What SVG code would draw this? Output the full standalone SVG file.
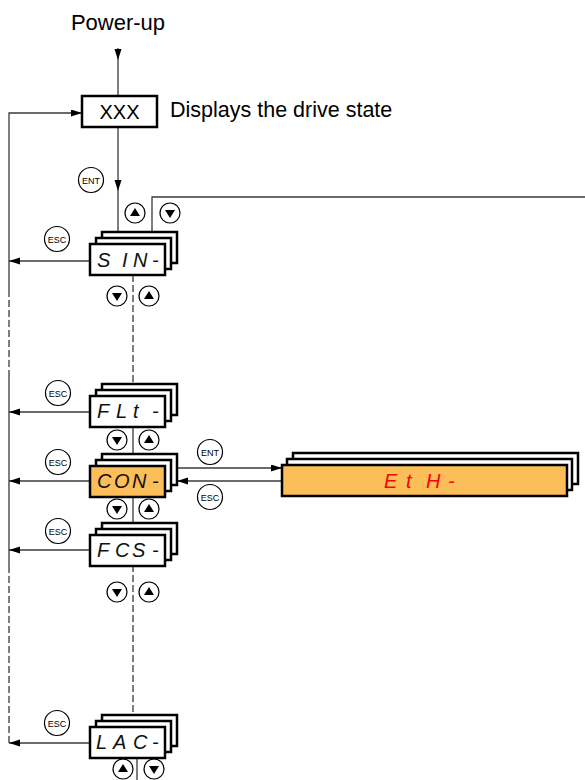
<svg xmlns="http://www.w3.org/2000/svg" width="585" height="780" viewBox="0 0 585 780">
<defs>
<style>
.ln{stroke:#3a3a3a;stroke-width:1.3;fill:none}
.dash{stroke-dasharray:7 3}
.lbl{font-family:"Liberation Sans",Arial,sans-serif;fill:#000}
.box{fill:#fff;stroke:#000;stroke-width:2.5}
.obox{fill:#FCBE58;stroke:#000;stroke-width:2.5}
.seg{font-family:"Liberation Sans",Arial,sans-serif;font-style:italic;font-size:20px;fill:#111}
.btn{fill:#fff;stroke:#000;stroke-width:1.2}
.btxt{font-family:"Liberation Sans",Arial,sans-serif;font-size:9px;fill:#000;text-anchor:middle}
.tri{fill:#000}
</style>
<marker id="ah" markerUnits="userSpaceOnUse" markerWidth="12" markerHeight="8" refX="11" refY="3.5" orient="auto">
<path d="M0,0 L11,3.5 L0,7 z" fill="#000"/>
</marker>
<g id="up"><circle class="btn" r="10"/><path class="tri" d="M0,-5 L5,3 L-5,3 z"/></g>
<g id="dn"><circle class="btn" r="10"/><path class="tri" d="M0,5 L5,-3 L-5,-3 z"/></g>
</defs>

<g id="connectors">
<line class="ln" x1="118" y1="48" x2="118" y2="60" marker-end="url(#ah)"/>
<line class="ln" x1="118" y1="60" x2="118" y2="96"/>
<line class="ln" x1="118" y1="127" x2="118" y2="191" marker-end="url(#ah)"/>
<line class="ln" x1="118" y1="191" x2="118" y2="232"/>
<polyline class="ln" points="152,232 152,197 585,197"/>
<polyline class="ln" points="9,290 9,113 82,113" marker-end="url(#ah)"/>
<line class="ln dash" x1="9" y1="290" x2="9" y2="372"/>
<line class="ln" x1="9" y1="372" x2="9" y2="566"/>
<line class="ln dash" x1="9" y1="566" x2="9" y2="743"/>
<line class="ln" x1="90" y1="261" x2="9" y2="261" marker-end="url(#ah)"/>
<line class="ln" x1="90" y1="412" x2="9" y2="412" marker-end="url(#ah)"/>
<line class="ln" x1="90" y1="481" x2="9" y2="481" marker-end="url(#ah)"/>
<line class="ln" x1="90" y1="550" x2="9" y2="550" marker-end="url(#ah)"/>
<line class="ln" x1="90" y1="743" x2="9" y2="743" marker-end="url(#ah)"/>
<line class="ln dash" x1="133" y1="275" x2="133" y2="384"/>
<line class="ln" x1="133" y1="426" x2="133" y2="454"/>
<line class="ln" x1="133" y1="496" x2="133" y2="523"/>
<line class="ln dash" x1="133" y1="565" x2="133" y2="715"/>
<line class="ln" x1="137" y1="757" x2="137" y2="780"/>
<line class="ln" x1="177" y1="468" x2="282" y2="468" marker-end="url(#ah)"/>
<line class="ln" x1="282" y1="481" x2="177" y2="481" marker-end="url(#ah)"/>
</g>

<g id="power-up"><text class="lbl" x="118" y="30" font-size="22" text-anchor="middle">Power-up</text></g>

<g id="xxx">
<rect class="box" x="82" y="96" width="75" height="31"/>
<text class="lbl" x="119.5" y="119" font-size="20" text-anchor="middle">XXX</text>
<text class="lbl" x="170" y="117" font-size="21.5">Displays the drive state</text>
</g>

<g id="buttons">
<circle class="btn" cx="91" cy="180" r="12.5"/><text class="btxt" x="91" y="183.5">ENT</text>
<use href="#up" x="135" y="213"/><use href="#dn" x="170" y="213"/>
<circle class="btn" cx="57" cy="239" r="12.5"/><text class="btxt" x="57" y="242.5">ESC</text>
<use href="#dn" x="117" y="296"/><use href="#up" x="149" y="296"/>
<circle class="btn" cx="58" cy="393" r="12.5"/><text class="btxt" x="58" y="396.5">ESC</text>
<use href="#dn" x="117" y="440"/><use href="#up" x="149" y="440"/>
<circle class="btn" cx="58" cy="462" r="12.5"/><text class="btxt" x="58" y="465.5">ESC</text>
<circle class="btn" cx="210" cy="452" r="12.5"/><text class="btxt" x="210" y="455.5">ENT</text>
<circle class="btn" cx="210" cy="497" r="12.5"/><text class="btxt" x="210" y="500.5">ESC</text>
<use href="#dn" x="117" y="509"/><use href="#up" x="149" y="509"/>
<circle class="btn" cx="58" cy="531" r="12.5"/><text class="btxt" x="58" y="534.5">ESC</text>
<use href="#dn" x="117" y="592"/><use href="#up" x="149" y="592"/>
<circle class="btn" cx="57" cy="723" r="12.5"/><text class="btxt" x="57" y="726.5">ESC</text>
<use href="#up" x="123" y="769"/><use href="#dn" x="154" y="769"/>
</g>

<g id="sin">
<rect class="box" x="102" y="232" width="75" height="31"/>
<rect class="box" x="96" y="238" width="75" height="31"/>
<rect class="box" x="90" y="244" width="75" height="31"/>
<text class="seg" x="97 122 133 152" y="267">SIN-</text>
</g>

<g id="flt">
<rect class="box" x="102" y="384" width="75" height="31"/>
<rect class="box" x="96" y="390" width="75" height="31"/>
<rect class="box" x="90" y="396" width="75" height="31"/>
<text class="seg" x="97 116 133 152" y="418">FLt-</text>
</g>

<g id="con">
<rect class="box" x="102" y="454" width="75" height="31"/>
<rect class="box" x="96" y="460" width="75" height="31"/>
<rect class="obox" x="90" y="466" width="75" height="31"/>
<text class="seg" x="97 114 132 152" y="488">CON-</text>
</g>

<g id="fcs">
<rect class="box" x="102" y="523" width="75" height="31"/>
<rect class="box" x="96" y="529" width="75" height="31"/>
<rect class="box" x="90" y="535" width="75" height="31"/>
<text class="seg" x="97 115 132 152" y="557">FCS-</text>
</g>

<g id="lac">
<rect class="box" x="102" y="715" width="75" height="31"/>
<rect class="box" x="96" y="721" width="75" height="31"/>
<rect class="box" x="90" y="727" width="75" height="31"/>
<text class="seg" x="96 113 133 152" y="749">LAC-</text>
</g>

<g id="eth">
<rect class="box" x="293" y="453" width="285" height="31"/>
<rect class="box" x="287" y="459" width="285" height="31"/>
<rect class="obox" x="282" y="465" width="285" height="31"/>
<text class="seg" x="384 406 426 448" y="488" font-size="21" style="fill:#ff0000">EtH-</text>
</g>
</svg>
